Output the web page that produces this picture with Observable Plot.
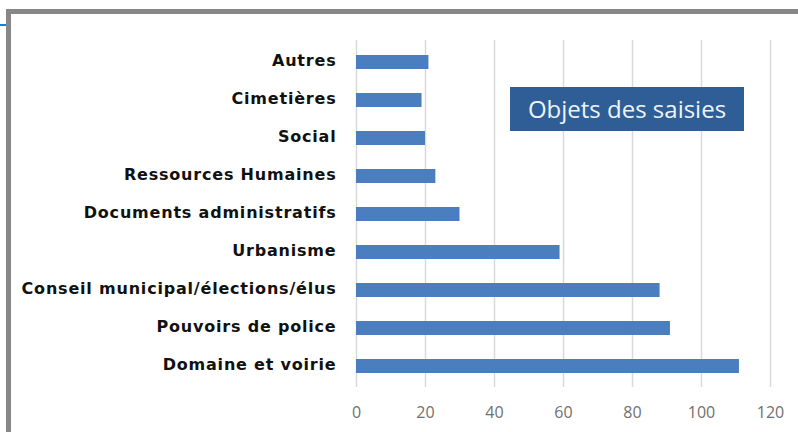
<!DOCTYPE html>
<html>
<head>
<meta charset="utf-8">
<script src="https://cdn.jsdelivr.net/npm/d3@7"></script>
<script src="https://cdn.jsdelivr.net/npm/@observablehq/plot@0.6"></script>
<style>
  html, body { margin: 0; padding: 0; background: #fff; }
  #wrap { position: relative; width: 798px; height: 432px; overflow: hidden; background: #fff; }
  #frameTop { position: absolute; left: 6px; top: 9px; width: 792px; height: 5px; background: #878787; }
  #frameLeft { position: absolute; left: 6px; top: 9px; width: 5px; height: 423px; background: #878787; }
  #blueTick { position: absolute; left: 0; top: 24px; width: 6px; height: 2px; background: #1a7dd0; }
  #title { position: absolute; left: 510px; top: 87px; width: 234px; height: 44px; background: #2f5e97;
           color: #eef3f8; font-family: "Open Sans", sans-serif; font-size: 24px; line-height: 44px;
           text-align: center; white-space: nowrap; }
  #chart { position: absolute; left: 0; top: 0; }
  #chart g[aria-label="y-axis tick label"] text { letter-spacing: 0.8px; }
</style>
</head>
<body>
<div id="wrap">
  <div id="chart"></div>
  <div id="frameTop"></div>
  <div id="frameLeft"></div>
  <div id="blueTick"></div>
  <div id="title">Objets des saisies</div>
</div>
<script>
const categories = [
  "Autres",
  "Cimetières",
  "Social",
  "Ressources Humaines",
  "Documents administratifs",
  "Urbanisme",
  "Conseil municipal/élections/élus",
  "Pouvoirs de police",
  "Domaine et voirie"
];
const values = [21, 19, 20, 23, 30, 59, 88, 91, 111];
const xTicks = [0, 20, 40, 60, 80, 100, 120];

const data = categories.map((c, i) => ({category: c, value: values[i]}));

const chart = Plot.plot({
  width: 798,
  height: 432,
  marginTop: 40,
  marginBottom: 45,
  marginLeft: 356,
  marginRight: 28,
  style: {background: "transparent"},
  x: {domain: [0, 120], ticks: xTicks, label: null},
  y: {domain: categories, label: null, paddingInner: 0.64, paddingOuter: 0.32},
  marks: [
    Plot.ruleX(xTicks, {stroke: "#d9d9d9", strokeWidth: 1.5}),
    Plot.barX(data, {x: "value", y: "category", fill: "#4a7ebf"}),
    Plot.axisX({ticks: xTicks, tickSize: 0, tickPadding: 19, fontSize: 16,
      fill: "#707070", fontFamily: "Open Sans, sans-serif", label: null}),
    Plot.axisY({tickSize: 0, tickPadding: 20, fontSize: 16, fontWeight: "bold",
      fill: "#111", fontFamily: "DejaVu Sans, sans-serif", label: null, dy: -2})
  ]
});
document.getElementById("chart").appendChild(chart);
</script>
</body>
</html>
